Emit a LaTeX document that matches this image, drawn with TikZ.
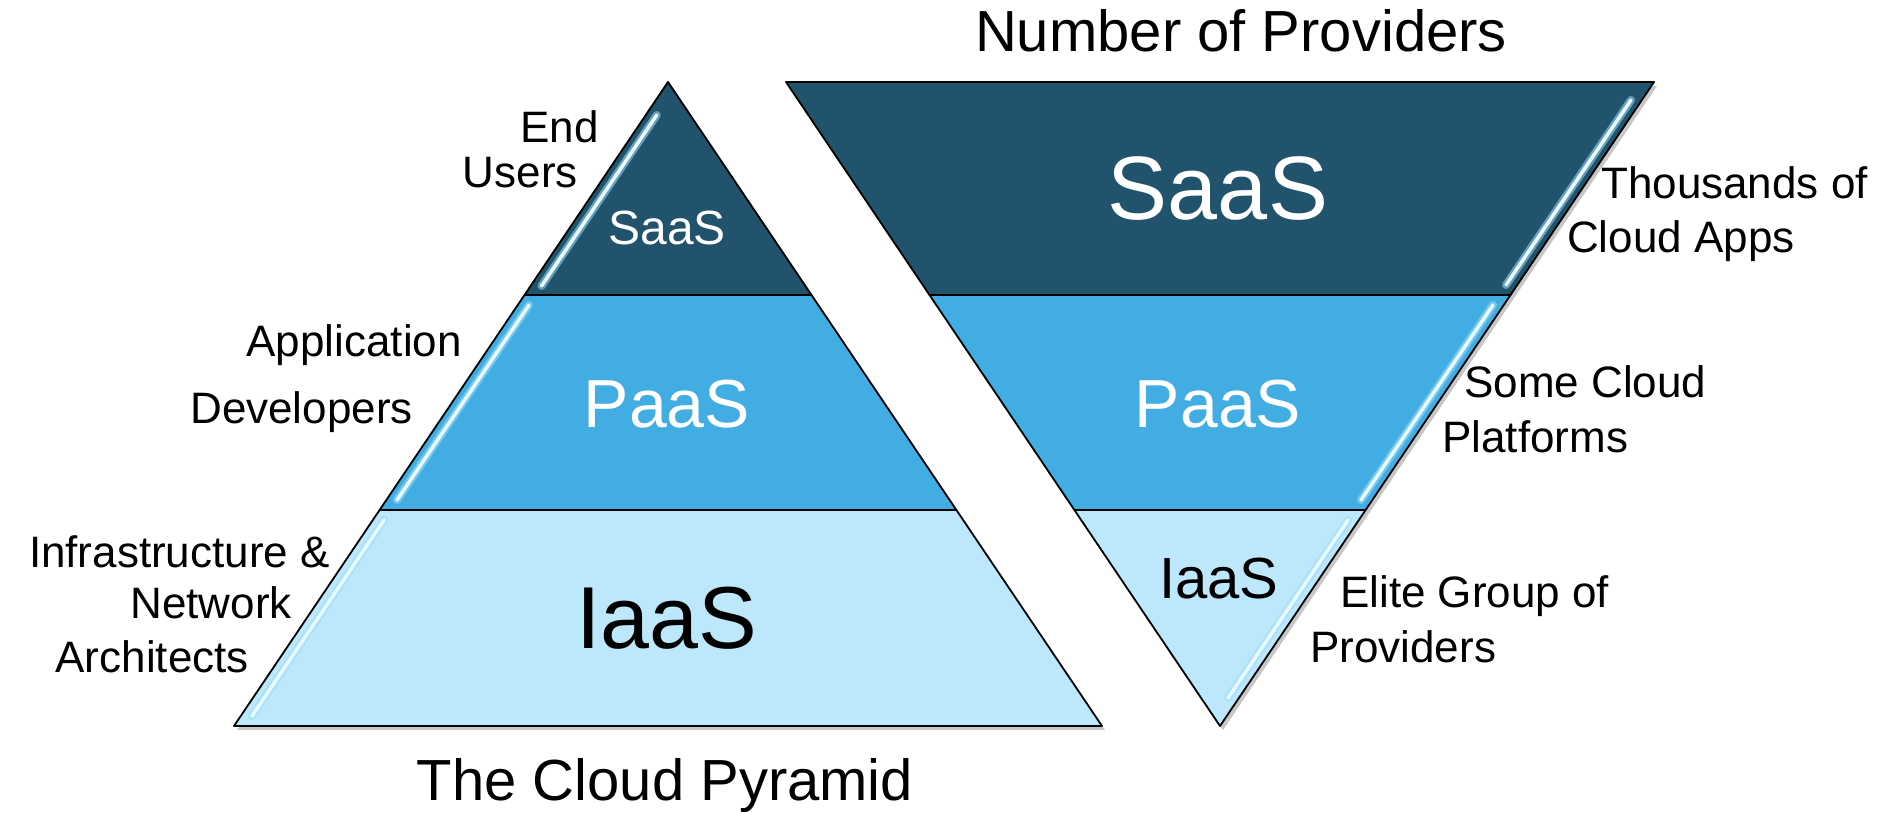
\documentclass[tikz,border=0pt]{standalone}
\usepackage{fontspec}
\setmainfont{Liberation Sans}
\definecolor{saascol}{HTML}{22536C}
\definecolor{paascol}{HTML}{41ADE2}
\definecolor{iaascol}{HTML}{BDE8FC}
\definecolor{glosscol}{HTML}{E8FAFF}
\definecolor{glowcol}{HTML}{9FDDF5}
\begin{document}
\begin{tikzpicture}[x=1bp,y=-1bp,
  band/.style={draw=black,line width=1.8bp,line join=round},
  shade/.style={fill=black,opacity=0.22},
  glowline/.style={draw=glowcol,line width=8bp,line cap=round,opacity=0.55},
  glossline/.style={draw=glosscol,line width=3.5bp,line cap=round},
  sidelabel/.style={font=\fontsize{44bp}{50bp}\selectfont,inner sep=0pt},
  titlelabel/.style={font=\fontsize{58bp}{64bp}\selectfont,inner sep=0pt,anchor=base},
  biglabel/.style={inner sep=0pt,anchor=base}]
\useasboundingbox (0,0) rectangle (1881,813);

% ---------- left pyramid ----------
\fill[shade] (671,86) -- (1105,730) -- (237,730) -- cycle;
\filldraw[band,fill=iaascol] (379.6,510) -- (956.4,510) -- (1102,726) -- (234,726) -- cycle;
\filldraw[band,fill=paascol] (524.5,295) -- (811.5,295) -- (956.4,510) -- (379.6,510) -- cycle;
\filldraw[band,fill=saascol] (668,82) -- (811.5,295) -- (524.5,295) -- cycle;
\foreach \a/\b in {{(541.5,286)}/{(656.8,115)},{(397,500)}/{(529,305)},{(252,716)}/{(384,520)}}{
  \draw[glowline] \a -- \b;
  \draw[glossline] \a -- \b;
}

% ---------- right inverted pyramid ----------
\fill[shade] (789,86) -- (1657,86) -- (1223,730) -- cycle;
\filldraw[band,fill=saascol] (786,82) -- (1654,82) -- (1510.5,295) -- (929.5,295) -- cycle;
\filldraw[band,fill=paascol] (929.5,295) -- (1510.5,295) -- (1365.6,510) -- (1074.4,510) -- cycle;
\filldraw[band,fill=iaascol] (1074.4,510) -- (1365.6,510) -- (1220,726) -- cycle;
\foreach \a/\b in {{(1631,100)}/{(1506,285)},{(1493,305)}/{(1361,500)},{(1348,520)}/{(1228,698)}}{
  \draw[glowline] \a -- \b;
  \draw[glossline] \a -- \b;
}

% ---------- labels inside ----------
\node[biglabel,text=white,font=\fontsize{48bp}{52bp}\selectfont] (lsaas) at (667,244) {SaaS};
\node[biglabel,text=white,font=\fontsize{68bp}{72bp}\selectfont] (lpaas) at (667,427) {PaaS};
\node[biglabel,text=black,font=\fontsize{88bp}{92bp}\selectfont] (liaas) at (667,648) {IaaS};
\node[biglabel,text=white,font=\fontsize{90bp}{94bp}\selectfont] (rsaas) at (1218,219) {SaaS};
\node[biglabel,text=white,font=\fontsize{68bp}{72bp}\selectfont] (rpaas) at (1218,427) {PaaS};
\node[biglabel,text=black,font=\fontsize{58bp}{62bp}\selectfont] (riaas) at (1219,598) {IaaS};

% ---------- titles ----------
\node[titlelabel] (ttop) at (1241,52) {Number of Providers};
\node[titlelabel] (tbot) at (665,800) {The Cloud Pyramid};

% ---------- left side labels ----------
\node[sidelabel,anchor=base east] (end) at (599,142) {End};
\node[sidelabel,anchor=base east] (users) at (578,187) {Users};
\node[sidelabel,anchor=base east] (appl) at (462,356) {Application};
\node[sidelabel,anchor=base east] (devs) at (413,423) {Developers};
\node[sidelabel,anchor=base east] (infra) at (330,567) {Infrastructure \&};
\node[sidelabel,anchor=base east] (netw) at (292,618) {Network};
\node[sidelabel,anchor=base east] (arch) at (249,672) {Architects};

% ---------- right side labels ----------
\node[sidelabel,anchor=base west] (thous) at (1601,198) {Thousands of};
\node[sidelabel,anchor=base west] (capps) at (1567,252) {Cloud Apps};
\node[sidelabel,anchor=base west] (somec) at (1464,397) {Some Cloud};
\node[sidelabel,anchor=base west] (platf) at (1442,452) {Platforms};
\node[sidelabel,anchor=base west] (elite) at (1340,607) {Elite Group of};
\node[sidelabel,anchor=base west] (provs) at (1310,662) {Providers};
\end{tikzpicture}
\end{document}
